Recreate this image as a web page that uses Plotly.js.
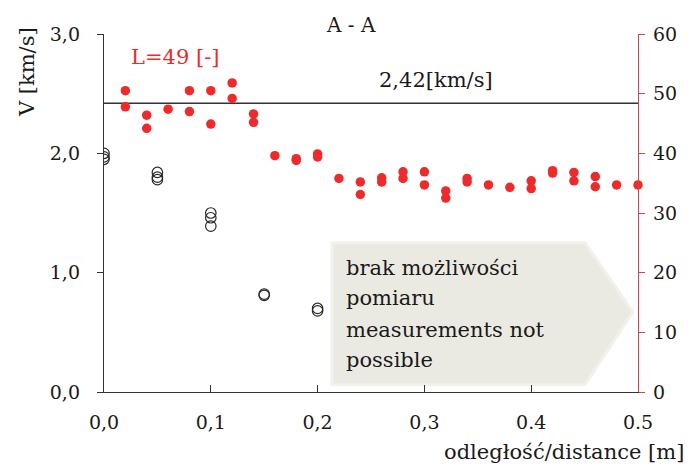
<!DOCTYPE html>
<html>
<head>
<meta charset="utf-8">
<script src="https://cdn.plot.ly/plotly-3.0.1.min.js"></script>
<style>html,body{margin:0;padding:0;background:#fff;}#chart{width:690px;height:465px;}</style>
</head>
<body>
<div id="chart"></div>
<script>
// Velocity V [km/s] (left axis, open black circles)
var velX = [0, 0, 0, 0.05, 0.05, 0.05, 0.1, 0.1, 0.1, 0.15, 0.15, 0.2, 0.2];
var velV = [2.00, 1.97, 1.95, 1.84, 1.80, 1.78, 1.50, 1.46, 1.39, 0.82, 0.81, 0.70, 0.68];

// L [-] values (right axis, red dots)
var lX = [0.02,0.02,0.04,0.04,0.06,0.08,0.08,0.10,0.10,0.12,0.12,0.14,0.14,0.16,0.18,0.18,0.20,0.20,0.22,0.24,0.24,0.26,0.26,0.28,0.28,0.30,0.30,0.32,0.32,0.34,0.34,0.36,0.38,0.40,0.40,0.42,0.42,0.44,0.44,0.46,0.46,0.48,0.50];
var lVal = [50.5,47.8,46.4,44.2,47.4,50.5,47.0,50.5,44.9,51.8,49.2,46.6,45.2,39.6,39.1,38.8,39.9,39.4,35.8,35.2,33.1,35.9,35.2,36.9,35.8,36.9,34.7,33.7,32.5,35.8,35.2,34.7,34.3,35.4,34.1,37.1,36.7,36.8,35.4,36.1,34.4,34.7,34.7];

// Reference velocity line
var refX = [0, 0.5];
var refV = [2.42, 2.42];

// Tick labels
var xTickVals = [0, 0.1, 0.2, 0.3, 0.4, 0.5];
var xTickText = ["0,0", "0,1", "0,2", "0,3", "0.4", "0.5"];
var yTickVals = [0, 1, 2, 3];
var yTickText = ["0,0", "1,0", "2,0", "3,0"];
var y2TickVals = [0, 10, 20, 30, 40, 50, 60];

var FONT = "DejaVu Serif";
var RED = "#ee2a2a";
var AXRED = "#c9474f";
var INK = "#1a1a1a";

var traces = [
  {x: refX, y: refV, mode: "lines", line: {color: "#333333", width: 1.4}, hoverinfo: "skip", showlegend: false},
  {x: velX, y: velV, mode: "markers", marker: {symbol: "circle-open", size: 10.5, color: "#2a2a2a", line: {width: 1.2}}, showlegend: false},
  {x: lX, y: lVal, yaxis: "y2", mode: "markers", marker: {symbol: "circle", size: 9.5, color: RED}, showlegend: false, cliponaxis: false}
];

var boxPath = "M 0.2135 1.25 L 0.4504 1.25 L 0.4953 0.67 L 0.4504 0.06 L 0.2135 0.06 Z";

var layout = {
  width: 690, height: 465,
  margin: {l: 104, r: 52, t: 34, b: 73},
  paper_bgcolor: "#ffffff", plot_bgcolor: "#ffffff",
  font: {family: FONT, color: INK, size: 19},
  showlegend: false,
  xaxis: {
    range: [0, 0.5], tickvals: xTickVals, ticktext: xTickText,
    showgrid: false, zeroline: false, showline: true, linecolor: "#333333", linewidth: 1.2,
    ticks: "inside", ticklen: 7, tickcolor: "#333333", ticklabelstandoff: 13,
    tickfont: {family: FONT, size: 19, color: INK}
  },
  yaxis: {
    range: [0, 3], tickvals: yTickVals, ticktext: yTickText,
    showgrid: false, zeroline: false, showline: true, linecolor: "#333333", linewidth: 1.2,
    ticks: "outside", ticklen: 6, tickcolor: "#333333", ticklabelstandoff: 13,
    tickfont: {family: FONT, size: 19, color: INK}
  },
  yaxis2: {
    range: [0, 60], tickvals: y2TickVals, overlaying: "y", side: "right",
    showgrid: false, zeroline: false, showline: true, linecolor: AXRED, linewidth: 1.2,
    ticks: "outside", ticklen: 6, tickcolor: AXRED, ticklabelstandoff: 4,
    tickfont: {family: FONT, size: 19, color: INK}
  },
  shapes: [
    {type: "path", xref: "x", yref: "y", path: boxPath, fillcolor: "#ebeae2", line: {color: "#f2f1ec", width: 3}, layer: "below"}
  ],
  annotations: [
    {text: "A - A", xref: "paper", yref: "paper", x: 0.4625, y: 1.025, showarrow: false, xanchor: "center", yanchor: "middle", font: {family: FONT, size: 20, color: INK}},
    {text: "L=49 [-]", xref: "paper", yref: "paper", x: 0.133, y: 0.936, showarrow: false, xanchor: "center", yanchor: "middle", font: {family: FONT, size: 21, color: RED}},
    {text: "2,42[km/s]", xref: "paper", yref: "paper", x: 0.622, y: 0.872, showarrow: false, xanchor: "center", yanchor: "middle", font: {family: FONT, size: 21, color: INK}},
    {text: "V [km/s]", xref: "paper", yref: "paper", x: -0.144, y: 0.894, showarrow: false, textangle: -90, xanchor: "center", yanchor: "middle", font: {family: FONT, size: 21, color: INK}},
    {text: "odległość/distance [m]", xref: "paper", yref: "paper", x: 1.09, y: -0.168, showarrow: false, xanchor: "right", yanchor: "middle", font: {family: FONT, size: 21, color: INK}},
    {text: "brak możliwości", xref: "paper", yref: "paper", x: 0.4494, y: 0.346, showarrow: false, xanchor: "left", yanchor: "middle", font: {family: FONT, size: 21, color: INK}},
    {text: "pomiaru", xref: "paper", yref: "paper", x: 0.4494, y: 0.263, showarrow: false, xanchor: "left", yanchor: "middle", font: {family: FONT, size: 21, color: INK}},
    {text: "measurements not", xref: "paper", yref: "paper", x: 0.4494, y: 0.173, showarrow: false, xanchor: "left", yanchor: "middle", font: {family: FONT, size: 21, color: INK}},
    {text: "possible", xref: "paper", yref: "paper", x: 0.4494, y: 0.089, showarrow: false, xanchor: "left", yanchor: "middle", font: {family: FONT, size: 21, color: INK}}
  ]
};

Plotly.newPlot("chart", traces, layout, {displayModeBar: false, staticPlot: true});
</script>
</body>
</html>
